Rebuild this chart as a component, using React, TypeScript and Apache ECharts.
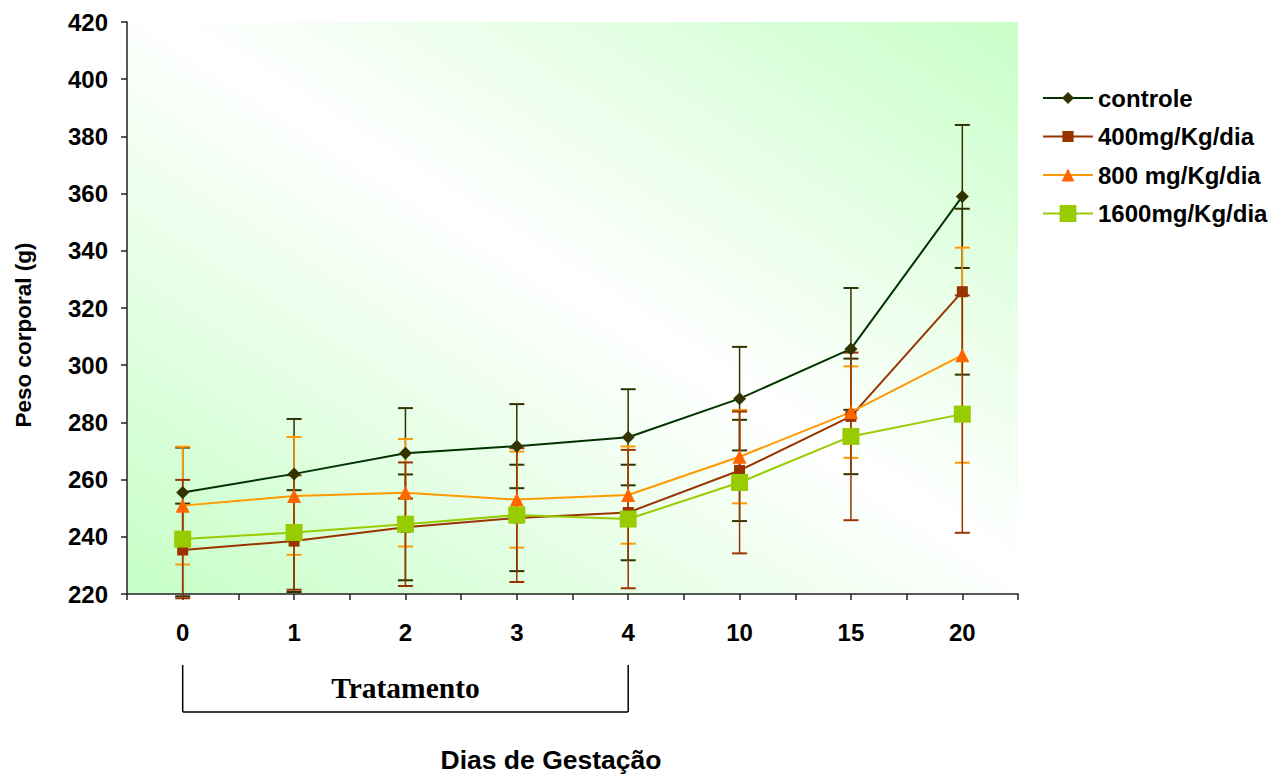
import React, { useEffect, useRef } from "react";
import * as echarts from "echarts";

const categories = ["0", "1", "2", "3", "4", "10", "15", "20"];
const seriesNames = ["controle", "400mg/Kg/dia", "800 mg/Kg/dia", "1600mg/Kg/dia"];

const controleMean = [255.5, 262, 269.2, 271.7, 274.8, 288.3, 305.7, 359];
const controleSd = [15.7, 19.2, 15.8, 14.7, 16.8, 18.1, 21.3, 25];
const mg400Mean = [235.4, 238.5, 243.3, 246.6, 248.5, 263.2, 282.1, 325.7];
const mg400Sd = [16.2, 17.8, 18.5, 18.6, 16.7, 17.7, 20.2, 29];
const mg800Mean = [250.9, 254.3, 255.4, 253, 254.6, 268, 283.6, 303.5];
const mg800Sd = [20.6, 20.6, 18.8, 16.8, 17, 16.3, 16, 37.6];
const mg1600Mean = [239.2, 241.5, 244.4, 247.6, 246.2, 259, 275.1, 282.9];
const mg1600Sd = [20.7, 20, 21.6, 23.4, 24.2, 24.8, 29.3, 41.5];

const yTicks = { min: 220, max: 420, interval: 20 };

const SANS = '"Liberation Sans", Arial, Helvetica, sans-serif';
const SERIF = '"Liberation Serif", "Times New Roman", serif';

function errorData(mean: number[], sd: number[]) {
  return mean.map((m, i) => [i, m - sd[i], m + sd[i]]);
}

function errorRender(color: string) {
  return (params: any, api: any) => {
    const x = api.value(0);
    const lo = api.value(1);
    const hi = api.value(2);
    const top = api.coord([x, hi]);
    const bot = api.coord([x, lo]);
    const hw = 7.5;
    return {
      type: "group",
      children: [
        { type: "line", shape: { x1: top[0], y1: top[1], x2: bot[0], y2: bot[1] }, style: { stroke: color, lineWidth: 1.5 } },
        { type: "line", shape: { x1: top[0] - hw, y1: top[1], x2: top[0] + hw, y2: top[1] }, style: { stroke: color, lineWidth: 2 } },
        { type: "line", shape: { x1: bot[0] - hw, y1: bot[1], x2: bot[0] + hw, y2: bot[1] }, style: { stroke: color, lineWidth: 2 } },
      ],
    };
  };
}

export default function App() {
  const ref = useRef<HTMLDivElement>(null);

  useEffect(() => {
    if (!ref.current) return;
    const chart = echarts.init(ref.current, undefined, { renderer: "svg" });

    const lineDefs = [
      { name: seriesNames[0], data: controleMean, symbol: "diamond", size: 13, line: "#003300", fill: "#333300" },
      { name: seriesNames[1], data: mg400Mean, symbol: "rect", size: 11, line: "#993300", fill: "#993300" },
      { name: seriesNames[2], data: mg800Mean, symbol: "triangle", size: 14, line: "#FF9900", fill: "#FF6600" },
      { name: seriesNames[3], data: mg1600Mean, symbol: "rect", size: 17, line: "#99CC00", fill: "#99CC00" },
    ];

    const errDefs = [
      { data: errorData(controleMean, controleSd), color: "#333300" },
      { data: errorData(mg400Mean, mg400Sd), color: "#333300" },
      { data: errorData(mg800Mean, mg800Sd), color: "#FF9900" },
      { data: errorData(mg1600Mean, mg1600Sd), color: "#993300" },
    ];

    const legendCenters = [98, 136.5, 175, 213.5];
    const legendHeights = [15, 14, 16, 21];

    const option: any = {
      animation: false,
      grid: {
        left: 127,
        top: 22,
        width: 891,
        height: 572,
        show: true,
        borderWidth: 0,
        backgroundColor: {
          type: "linear",
          x: 0,
          y: 1,
          x2: 1,
          y2: 0,
          colorStops: [
            { offset: 0, color: "#c6ffc6" },
            { offset: 0.52, color: "#ffffff" },
            { offset: 1, color: "#c8ffc8" },
          ],
        },
      },
      xAxis: [
        {
          type: "category",
          data: categories,
          boundaryGap: true,
          position: "bottom",
          axisLine: { show: true, lineStyle: { color: "#222", width: 1.5 } },
          axisTick: { show: true, length: 6, lineStyle: { color: "#222", width: 1.5 } },
          axisLabel: { margin: 26, color: "#000", fontSize: 24, fontWeight: "bold", fontFamily: SANS },
          splitLine: { show: false },
        },
        {
          type: "category",
          data: categories,
          boundaryGap: true,
          position: "bottom",
          axisLine: { show: false },
          axisTick: { show: true, alignWithLabel: true, length: 6, lineStyle: { color: "#222", width: 1.5 } },
          axisLabel: { show: false },
          splitLine: { show: false },
        },
      ],
      yAxis: {
        type: "value",
        min: yTicks.min,
        max: yTicks.max,
        interval: yTicks.interval,
        axisLine: { show: true, lineStyle: { color: "#222", width: 1.5 } },
        axisTick: { show: true, length: 6, lineStyle: { color: "#222", width: 1.5 } },
        axisLabel: { margin: 19, color: "#000", fontSize: 24, fontWeight: "bold", fontFamily: SANS },
        splitLine: { show: false },
      },
      legend: seriesNames.map((n, i) => ({
        data: [n],
        orient: "vertical",
        left: 1042,
        top: legendCenters[i] - 12,
        itemWidth: 50,
        itemHeight: legendHeights[i],
        itemGap: 0,
        padding: 0,
        selectedMode: false,
        textStyle: { color: "#000", fontSize: 24, fontWeight: "bold", fontFamily: SANS, padding: [0, 0, 0, 0] },
      })),
      series: [
        ...errDefs.map((e, i) => ({
          type: "custom",
          name: "sd-" + i,
          xAxisIndex: 0,
          renderItem: errorRender(e.color),
          encode: { x: 0, y: [1, 2] },
          data: e.data,
          clip: false,
          z: 1,
          silent: true,
        })),
        ...lineDefs.map((d) => ({
          type: "line",
          name: d.name,
          xAxisIndex: 0,
          data: d.data,
          symbol: d.symbol,
          symbolSize: d.size,
          showAllSymbol: true,
          lineStyle: { color: d.line, width: 2 },
          itemStyle: { color: d.fill, borderWidth: 0 },
          z: 3,
          silent: true,
        })),
      ],
    };

    chart.setOption(option);

    const x0 = chart.convertToPixel({ xAxisIndex: 0 }, 0) as number;
    const x4 = chart.convertToPixel({ xAxisIndex: 0 }, 4) as number;
    const bTop = 665;
    const bBot = 712;
    const lineStyle = { stroke: "#000", lineWidth: 1.5 };

    chart.setOption({
      graphic: [
        { type: "line", shape: { x1: x0, y1: bTop, x2: x0, y2: bBot }, style: lineStyle },
        { type: "line", shape: { x1: x4, y1: bTop, x2: x4, y2: bBot }, style: lineStyle },
        { type: "line", shape: { x1: x0, y1: bBot, x2: x4, y2: bBot }, style: lineStyle },
        {
          type: "text",
          x: (x0 + x4) / 2,
          y: 688,
          style: {
            text: "Tratamento",
            fontFamily: SERIF,
            fontSize: 29.5,
            fontWeight: "bold",
            fill: "#000",
            align: "center",
            verticalAlign: "middle",
            textAlign: "center",
            textVerticalAlign: "middle",
          },
        },
        {
          type: "text",
          x: 551,
          y: 760,
          style: {
            text: "Dias de Gestação",
            fontFamily: SANS,
            fontSize: 26.5,
            fontWeight: "bold",
            fill: "#000",
            align: "center",
            verticalAlign: "middle",
            textAlign: "center",
            textVerticalAlign: "middle",
          },
        },
        {
          type: "text",
          x: 23,
          y: 335,
          rotation: Math.PI / 2,
          style: {
            text: "Peso corporal (g)",
            fontFamily: SANS,
            fontSize: 22.5,
            fontWeight: "bold",
            fill: "#000",
            align: "center",
            verticalAlign: "middle",
            textAlign: "center",
            textVerticalAlign: "middle",
          },
        },
      ],
    });

    return () => {
      chart.dispose();
    };
  }, []);

  return (
    <div
      ref={ref}
      style={{ position: "fixed", left: 0, top: 0, width: 1285, height: 776, background: "#fff" }}
    />
  );
}
